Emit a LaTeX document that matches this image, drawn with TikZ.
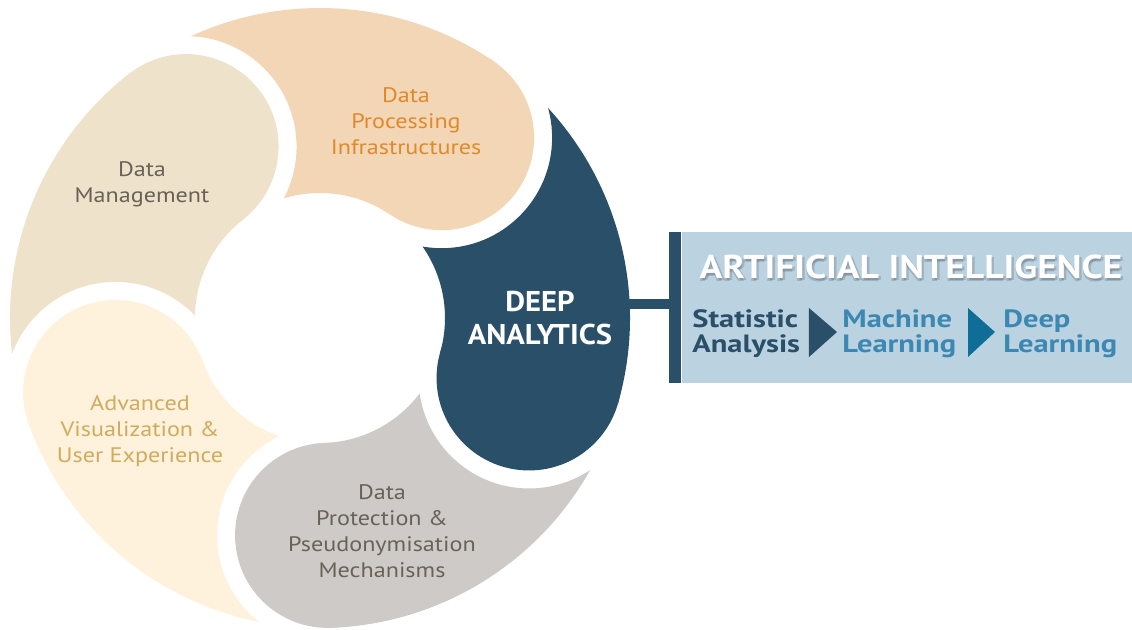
\documentclass[tikz,border=0pt]{standalone}
\usepackage{fontspec}
\setmainfont{PT Sans}
\newfontfamily\segfont{PT Sans}[FakeStretch=1.15]
\newfontfamily\deepfont{PT Sans}[FakeStretch=1.07]
\newfontfamily\titlefont{PT Sans}[FakeStretch=1.14]
\newfontfamily\stepfont{PT Sans}[FakeStretch=1.22]
\usepackage{tikz}

\definecolor{procfill}{HTML}{F3D6B5}
\definecolor{proctext}{HTML}{E0892C}
\definecolor{mgmtfill}{HTML}{EEE2CA}
\definecolor{mgmttext}{HTML}{6A6259}
\definecolor{visfill}{HTML}{FEF2DC}
\definecolor{vistext}{HTML}{D1AA5E}
\definecolor{protfill}{HTML}{CDCAC7}
\definecolor{prottext}{HTML}{6A6259}
\definecolor{deepfill}{HTML}{2A4F69}
\definecolor{aiblue}{HTML}{BBD2E1}
\definecolor{mltext}{HTML}{3C88B2}
\definecolor{tritwo}{HTML}{0F6E98}

\tikzset{
	seglabel/.style={align=center,font=\segfont\fontsize{10.5}{13}\selectfont},
	aitext/.style={align=left,anchor=west,inner sep=0pt,font=\stepfont\bfseries\fontsize{12.5}{12.5}\selectfont},
	titletext/.style={inner sep=0pt,font=\titlefont\bfseries\fontsize{16.5}{18}\selectfont},
}

\begin{document}
\begin{tikzpicture}[x=0.5pt,y=0.5pt]
		\useasboundingbox (-320,-311) rectangle (812,318);
		% ring of five comma shapes, each tail cut by the next head
		\foreach \a/\c in {56/procfill,-16/deepfill,-88/protfill,200/visfill,128/mgmtfill}{
			\begin{scope}[even odd rule]
				\clip (-330,-330) rectangle (330,330) ({\a+72}:217.5) circle[radius=110.5];
				\fill[\c] (\a:125) arc[start angle=\a,end angle=\a+72,radius=125] -- ({\a+72}:310) arc[start angle=\a+72,end angle=\a,radius=310] -- cycle;
				\fill[\c] (\a:217.5) circle[radius=92.5];
			\end{scope}
		}
		\node[seglabel,text=proctext] (proc) at (86,196.5) {Data\\Processing\\Infrastructures};
		\node[seglabel,text=mgmttext] (mgmt) at (-178,133.5) {Data\\Management};
		\node[seglabel,text=vistext] (vis) at (-180,-113) {Advanced\\Visualization \&\\User Experience};
		\node[seglabel,text=prottext] (prot) at (62,-213.5) {Data\\Protection \&\\Pseudonymisation\\Mechanisms};
		\node[align=center,text=white,font=\deepfont\bfseries\fontsize{14.3}{16.5}\selectfont] (deep) at (220,0) {DEEP\\ANALYTICS};
		
		% artificial intelligence box
		\node[fill=deepfill,minimum width=6pt,minimum height=75.5pt,inner sep=0pt] (aibar) at (355,10.5) {};
		\node[fill=aiblue,minimum width=225.5pt,minimum height=75.5pt,inner sep=0pt,anchor=west] (aibox) at (aibar.east) {};
		\coordinate (daedge) at (300,14);
		\draw[deepfill,line width=5pt] (daedge) -- (daedge -| aibar.west);
		\foreach \dx/\dy in {1.2/-1.2,0/-1.8}
			\node[titletext,text=black,opacity=0.15,xshift=\dx pt,yshift=\dy pt] at (591,51.5) {ARTIFICIAL INTELLIGENCE};
		\node[titletext,text=white] (aititle) at (591,51.5) {ARTIFICIAL INTELLIGENCE};
		\node[aitext,text=deepfill] (stat) at (372,-15.5) {Statistic\\Analysis};
		\node[aitext,text=mltext] (mach) at (522,-15.5) {Machine\\Learning};
		\node[aitext,text=mltext] (dl) at (683,-15.5) {Deep\\Learning};
		\fill[deepfill] (489,10) -- (489,-39) -- (517,-14) -- cycle;
		\fill[tritwo] (648,10) -- (648,-39) -- (675,-14) -- cycle;
	\end{tikzpicture}
\end{document}
